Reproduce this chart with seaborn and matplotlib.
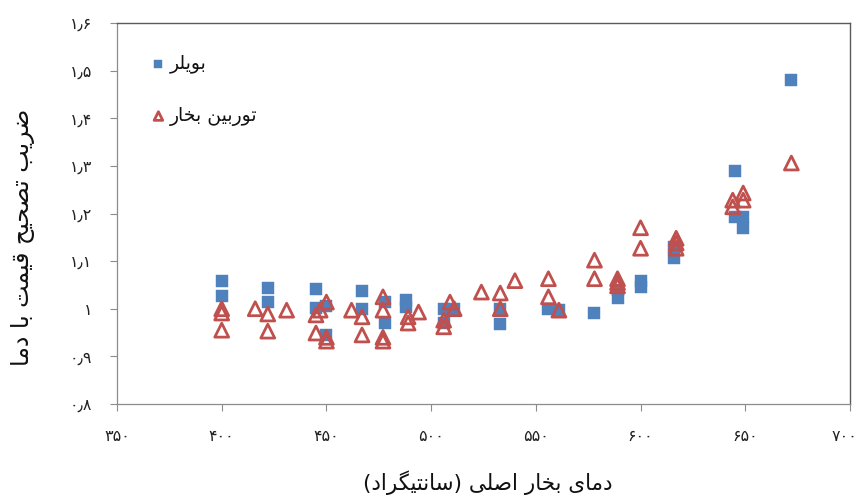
import matplotlib
matplotlib.use("Agg")
import matplotlib.pyplot as plt
import matplotlib.transforms as mtransforms
from matplotlib import font_manager
from matplotlib.ft2font import FT2Font
import seaborn as sns
import pandas as pd

# ---------------- data ----------------
boiler_label = "بویلر"
turbine_label = "توربین بخار"
x_label = "دمای بخار اصلی (سانتیگراد)"
y_label = "ضریب تصحیح قیمت با دما"

boiler_temp = [400, 400, 422, 422, 445, 445, 450, 450, 467, 467, 478, 478, 488, 488,
               506, 506, 511, 533, 533, 556, 561, 578, 589, 589, 600, 600, 616, 616,
               645, 645, 649, 649, 672]
boiler_coef = [1.058, 1.027, 1.044, 1.014, 1.041, 1.001, 1.005, 0.945, 1.037, 1.000,
               1.014, 0.970, 1.018, 1.003, 1.000, 0.970, 1.000, 1.000, 0.968, 1.000,
               0.997, 0.991, 1.040, 1.022, 1.058, 1.046, 1.129, 1.106, 1.289, 1.193,
               1.193, 1.170, 1.480]

turbine_temp = [400, 400, 400, 416, 422, 422, 431, 445, 445, 447, 450, 450, 450, 462,
                467, 467, 477, 477, 477, 477, 489, 489, 494, 506, 506, 509, 511, 524,
                533, 533, 540, 556, 556, 561, 578, 578, 589, 589, 589, 600, 600, 617,
                617, 617, 644, 644, 649, 649, 672]
turbine_coef = [1.000, 0.991, 0.955, 1.000, 0.989, 0.953, 0.997, 0.987, 0.949, 0.997,
                1.014, 0.940, 0.932, 0.997, 0.983, 0.945, 1.025, 0.997, 0.940, 0.932,
                0.983, 0.970, 0.993, 0.976, 0.962, 1.014, 1.000, 1.035, 1.033, 1.000,
                1.059, 1.063, 1.025, 0.997, 1.102, 1.063, 1.063, 1.055, 1.048, 1.170,
                1.127, 1.148, 1.138, 1.127, 1.228, 1.214, 1.243, 1.228, 1.306]

x_ticks = [350, 400, 450, 500, 550, 600, 650, 700]
x_tick_labels = ["۳۵۰", "۴۰۰", "۴۵۰", "۵۰۰", "۵۵۰", "۶۰۰", "۶۵۰", "۷۰۰"]
y_ticks = [0.8, 0.9, 1.0, 1.1, 1.2, 1.3, 1.4, 1.5, 1.6]
y_tick_labels = ["۰٫۸", "۰٫۹", "۱", "۱٫۱", "۱٫۲", "۱٫۳", "۱٫۴", "۱٫۵", "۱٫۶"]

# ---------------- Persian shaping helper (display only) ----------------
font_path = font_manager.findfont("DejaVu Sans")
cmap = FT2Font(font_path).get_charmap()

def _ok(forms):
    return all(f is None or ord(f) in cmap for f in forms)

FORMS = {
    "ا": ("\uFE8D", "\uFE8E", None, None),
    "ب": ("\uFE8F", "\uFE90", "\uFE91", "\uFE92"),
    "ت": ("\uFE95", "\uFE96", "\uFE97", "\uFE98"),
    "ح": ("\uFEA1", "\uFEA2", "\uFEA3", "\uFEA4"),
    "خ": ("\uFEA5", "\uFEA6", "\uFEA7", "\uFEA8"),
    "د": ("\uFEA9", "\uFEAA", None, None),
    "ر": ("\uFEAD", "\uFEAE", None, None),
    "س": ("\uFEB1", "\uFEB2", "\uFEB3", "\uFEB4"),
    "ص": ("\uFEB9", "\uFEBA", "\uFEBB", "\uFEBC"),
    "ض": ("\uFEBD", "\uFEBE", "\uFEBF", "\uFEC0"),
    "ق": ("\uFED5", "\uFED6", "\uFED7", "\uFED8"),
    "ل": ("\uFEDD", "\uFEDE", "\uFEDF", "\uFEE0"),
    "م": ("\uFEE1", "\uFEE2", "\uFEE3", "\uFEE4"),
    "ن": ("\uFEE5", "\uFEE6", "\uFEE7", "\uFEE8"),
    "و": ("\uFEED", "\uFEEE", None, None),
}
yeh = ("\uFBFC", "\uFBFD", "\uFBFE", "\uFBFF")
FORMS["ی"] = yeh if _ok(yeh) else ("\uFEEF", "\uFEF0", "\uFEF3", "\uFEF4")
gaf = ("\uFB92", "\uFB93", "\uFB94", "\uFB95")
FORMS["گ"] = gaf if _ok(gaf) else ("\uFED9", "\uFEDA", "\uFEDB", "\uFEDC")


def shape(text):
    chars = list(text)
    out = []
    for i, c in enumerate(chars):
        if c not in FORMS:
            out.append(c)
            continue
        iso, fin, ini, med = FORMS[c]
        prev = chars[i - 1] if i > 0 else None
        nxt = chars[i + 1] if i + 1 < len(chars) else None
        jp = prev in FORMS and FORMS[prev][2] is not None
        jn = ini is not None and nxt in FORMS
        if jp and jn:
            out.append(med)
        elif jp:
            out.append(fin)
        elif jn:
            out.append(ini)
        else:
            out.append(iso)
    s = "".join(out)[::-1]
    return s.translate(str.maketrans("()", ")("))


# ---------------- plot ----------------
sns.set_theme(style="white")
plt.rcParams["font.family"] = ["DejaVu Sans"]

blue = "#4F81BD"
red = "#C0504D"

fig = plt.figure(figsize=(8.61, 4.99), dpi=100)
ax = fig.add_axes([117 / 861, 1 - 404 / 499, 733 / 861, 381 / 499])

df_b = pd.DataFrame({"temp": boiler_temp, "coef": boiler_coef})
df_t = pd.DataFrame({"temp": turbine_temp, "coef": turbine_coef})

sns.scatterplot(data=df_b, x="temp", y="coef", marker="s", s=82, color=blue,
                edgecolor=blue, linewidth=0.3, ax=ax, label=shape(boiler_label), zorder=3)
sns.scatterplot(data=df_t, x="temp", y="coef", marker="^", s=100, facecolors="none",
                edgecolor=red, linewidth=2.0, ax=ax, label=shape(turbine_label), zorder=4)

ax.set_xlim(350, 700)
ax.set_ylim(0.8, 1.6)
ax.set_xticks(x_ticks, x_tick_labels)
ax.set_yticks(y_ticks, y_tick_labels)
ax.tick_params(axis="both", direction="out", length=5, width=0.8, color="#8c8c8c",
               pad=13, labelsize=11.5, labelcolor="#222222")
ax.tick_params(axis="x", bottom=True)
ax.tick_params(axis="y", left=True)

# keep the last x tick label inside the canvas
last = ax.get_xticklabels()[-1]
last.set_transform(last.get_transform() +
                   mtransforms.ScaledTranslation(-6 / 100, 0, fig.dpi_scale_trans))

for side in ["left", "bottom"]:
    ax.spines[side].set_color("#8c8c8c")
    ax.spines[side].set_linewidth(0.9)
for side in ["top", "right"]:
    ax.spines[side].set_color("#5a5a5a")
    ax.spines[side].set_linewidth(1.0)
    ax.spines[side].set_visible(True)

ax.set_xlabel(shape(x_label), fontsize=15.5, color="#111111")
ax.xaxis.set_label_coords(0.506, -0.207)
ax.xaxis.label.set_verticalalignment("center")
ax.set_ylabel(shape(y_label), fontsize=17, color="#111111")
ax.yaxis.set_label_coords(-0.128, 0.438)
ax.yaxis.label.set_verticalalignment("center")

leg = ax.legend(loc="upper left", bbox_to_anchor=(0.045, 0.92), frameon=False,
                fontsize=13.5, markerscale=0.62, labelspacing=1.75, handlelength=0.9,
                handletextpad=0.15, borderpad=0, borderaxespad=0)
for t in leg.get_texts():
    t.set_color("#111111")

fig.savefig("out.png", dpi=100)
